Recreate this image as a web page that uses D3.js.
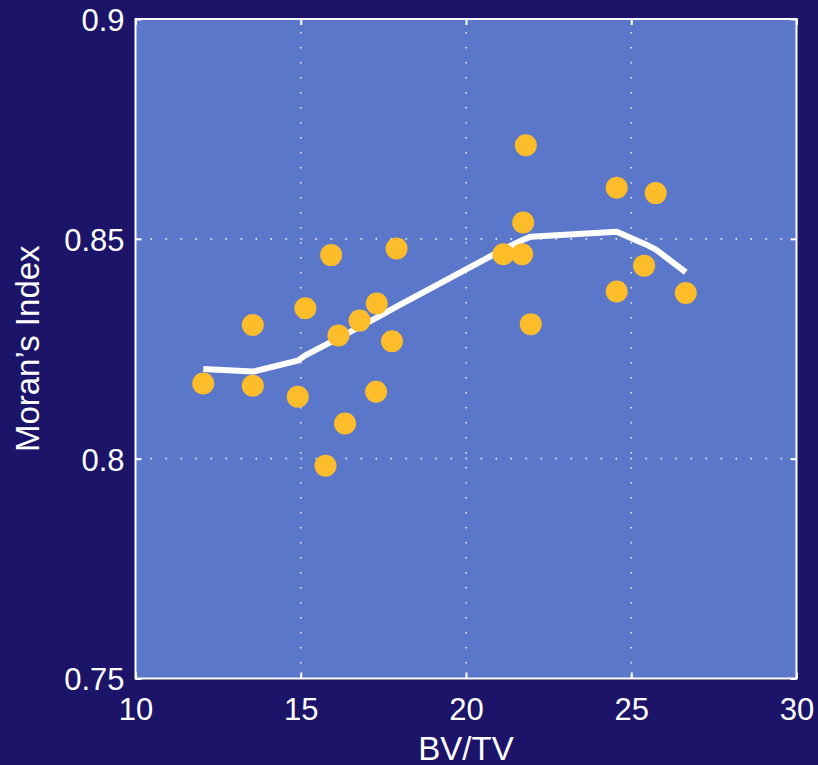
<!DOCTYPE html>
<html>
<head>
<meta charset="utf-8">
<script src="https://cdn.jsdelivr.net/npm/d3@7"></script>
<style>
  html, body { margin: 0; padding: 0; background: #1c1468; }
  svg { display: block; }
  text { font-family: "Liberation Sans", Arial, Helvetica, sans-serif; fill: #ffffff; }
</style>
</head>
<body>
<svg id="chart" width="818" height="765"></svg>
<script>
// Observed samples: bone volume fraction vs. Moran's index
const bvtv = [12.05, 13.55, 13.55, 14.91, 15.14, 15.92, 16.14, 16.34, 15.75, 16.78, 17.30, 17.28,
              17.76, 17.90, 21.13, 21.70, 21.73, 21.81, 21.96, 24.56, 24.56, 25.39, 25.74, 26.65];
const moran = [0.8171, 0.8304, 0.8166, 0.8141, 0.8342, 0.8463, 0.8280, 0.8080, 0.7984, 0.8314, 0.8353, 0.8152,
               0.8267, 0.8478, 0.8465, 0.8465, 0.8537, 0.8713, 0.8306, 0.8616, 0.8380, 0.8439, 0.8604, 0.8377];

// Smoothed trend curve
const trendX = [12.05, 13.55, 14.91, 15.14, 16.14, 17.30, 17.90, 21.13, 21.73, 21.96, 24.56, 25.39, 25.74, 26.65];
const trendY = [0.8204, 0.8198, 0.8223, 0.8235, 0.8274, 0.8321, 0.8346, 0.8476, 0.8498, 0.8505, 0.8516, 0.8489, 0.8476, 0.8424];

// Axis ticks
const xTicks = [10, 15, 20, 25, 30];
const yTicks = [0.75, 0.8, 0.85, 0.9];
const yTickLabels = ["0.75", "0.8", "0.85", "0.9"];

const svg = d3.select("#chart");
const W = 818, H = 765;
const plotLeft = 135.5, plotRight = 796.5, plotTop = 19, plotBottom = 678.5;

const x = d3.scaleLinear().domain([10, 30]).range([plotLeft, plotRight]);
const y = d3.scaleLinear().domain([0.75, 0.9]).range([plotBottom, plotTop]);

svg.append("rect").attr("width", W).attr("height", H).attr("fill", "#1c1468");

// Plot area
svg.append("rect")
  .attr("x", plotLeft).attr("y", plotTop)
  .attr("width", plotRight - plotLeft).attr("height", plotBottom - plotTop)
  .attr("fill", "#5b77ca");

// Dotted grid
const grid = svg.append("g")
  .attr("stroke", "#ffffff")
  .attr("stroke-width", 1.6)
  .attr("stroke-dasharray", "1.6,13.4")
  .attr("opacity", 0.85);
grid.selectAll("line.gx").data(xTicks.slice(1, -1)).join("line")
  .attr("class", "gx")
  .attr("x1", d => x(d)).attr("x2", d => x(d))
  .attr("y1", plotBottom).attr("y2", plotTop);
grid.selectAll("line.gy").data(yTicks.slice(1, -1)).join("line")
  .attr("class", "gy")
  .attr("y1", d => y(d)).attr("y2", d => y(d))
  .attr("x1", plotLeft).attr("x2", plotRight);

// Trend line
const trend = trendX.map((v, i) => [v, trendY[i]]);
svg.append("path")
  .datum(trend)
  .attr("fill", "none")
  .attr("stroke", "#ffffff")
  .attr("stroke-width", 6)
  .attr("stroke-linejoin", "round")
  .attr("d", d3.line().x(d => x(d[0])).y(d => y(d[1])));

// Sample points
svg.append("g").selectAll("circle")
  .data(bvtv.map((v, i) => [v, moran[i]]))
  .join("circle")
  .attr("cx", d => x(d[0]))
  .attr("cy", d => y(d[1]))
  .attr("r", 11)
  .attr("fill", "#fdbd2b");

// Axes with inward ticks
const tickLen = 6;
const xAxis = d3.axisBottom(x).tickValues(xTicks).tickFormat(d3.format("d"))
  .tickSizeInner(-tickLen).tickSizeOuter(0).tickPadding(19);
const gx = svg.append("g").attr("transform", `translate(0,${plotBottom})`).call(xAxis);
const yAxis = d3.axisLeft(y).tickValues(yTicks).tickFormat((d, i) => yTickLabels[i])
  .tickSizeInner(-tickLen).tickSizeOuter(0).tickPadding(11);
const gy = svg.append("g").attr("transform", `translate(${plotLeft},0)`).call(yAxis);
const xTopAxis = d3.axisTop(x).tickValues(xTicks).tickFormat("").tickSizeInner(-tickLen).tickSizeOuter(0);
const gxt = svg.append("g").attr("transform", `translate(0,${plotTop})`).call(xTopAxis);
const yRightAxis = d3.axisRight(y).tickValues(yTicks).tickFormat("").tickSizeInner(-tickLen).tickSizeOuter(0);
const gyr = svg.append("g").attr("transform", `translate(${plotRight},0)`).call(yRightAxis);

[gx, gy, gxt, gyr].forEach(g => {
  g.select(".domain").remove();
  g.selectAll(".tick line").attr("stroke", "#ffffff").attr("stroke-width", 2);
  g.selectAll(".tick text")
    .attr("fill", "#ffffff")
    .style("font-size", "31px")
    .style("font-family", "'Liberation Sans', Arial, Helvetica, sans-serif");
});
gy.selectAll(".tick text").attr("dy", "0.37em");

// Axis box
svg.append("rect")
  .attr("x", plotLeft).attr("y", plotTop)
  .attr("width", plotRight - plotLeft).attr("height", plotBottom - plotTop)
  .attr("fill", "none")
  .attr("stroke", "#ffffff")
  .attr("stroke-width", 2);

// Axis titles
svg.append("text")
  .attr("x", (plotLeft + plotRight) / 2).attr("y", 760)
  .attr("text-anchor", "middle")
  .style("font-size", "33px")
  .text("BV/TV");
svg.append("text")
  .attr("transform", `translate(38.5,${(plotTop + plotBottom) / 2}) rotate(-90)`)
  .attr("text-anchor", "middle")
  .style("font-size", "33px")
  .text("Moran’s Index");
</script>
</body>
</html>
